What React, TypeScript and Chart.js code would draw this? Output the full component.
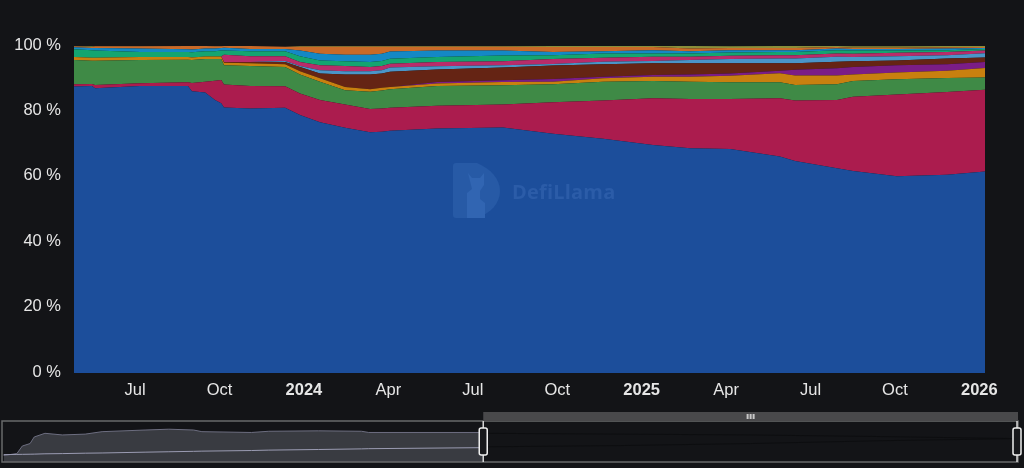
import { useEffect, useRef } from "react"
import { Chart, registerables } from "chart.js"

Chart.register(...registerables)

// months counted from Jan 2023
const dates = [3.83, 4.47, 4.58, 6.18, 7.88, 8.02, 8.49, 8.84, 9.06, 9.16, 10.09, 11.33, 11.86, 12.57, 13.46, 14.35, 14.77, 15.06, 16.73, 19.07, 20.85, 22.63, 24.4, 25.72, 27.14, 28.91, 29.45, 30.94, 31.51, 33.07, 34.85, 36.2]

const blue = [87.6, 87.8, 87.1, 87.8, 87.8, 86.2, 85.8, 83.5, 82.5, 81.2, 80.9, 81.1, 78.9, 76.7, 75.0, 73.6, 73.8, 74.1, 74.8, 75.1, 73.2, 71.6, 69.7, 68.7, 68.5, 66.2, 64.8, 62.6, 61.8, 60.2, 60.6, 61.6]
const crimson = [0.7, 0.6, 1.0, 0.8, 1.1, 2.5, 3.3, 5.9, 7.1, 7.0, 6.9, 6.6, 6.6, 6.8, 7.1, 7.1, 7.1, 7.0, 6.9, 7.0, 9.6, 11.7, 14.3, 15.1, 15.3, 17.8, 18.5, 20.9, 22.7, 25.0, 25.3, 25.0]
const green = [7.4, 7.1, 7.4, 7.1, 6.9, 7.0, 6.9, 6.6, 6.4, 5.9, 6.1, 5.9, 5.8, 5.6, 4.4, 5.3, 5.5, 5.7, 6.1, 5.9, 5.5, 5.8, 5.3, 5.3, 5.1, 4.9, 4.8, 4.8, 4.8, 4.6, 4.3, 3.8]
const orange = [0.9, 0.9, 0.9, 0.9, 0.8, 0.8, 0.8, 0.8, 0.8, 0.8, 0.8, 0.8, 1.0, 1.0, 1.0, 0.8, 0.8, 0.7, 0.7, 1.0, 0.8, 1.0, 1.3, 1.5, 2.0, 2.8, 2.9, 2.7, 2.0, 2.1, 2.2, 2.9]
const purple = [0, 0, 0, 0, 0, 0, 0, 0, 0, 0, 0, 0, 0, 0, 0, 0, 0, 0, 0.5, 0.5, 0.8, 0.5, 0.5, 0.7, 0.7, 0.7, 1.7, 2.2, 2.3, 2.2, 2.0, 1.8]
const brown = [0, 0, 0, 0, 0, 0, 0, 0, 0, 0.2, 0.4, 0.7, 1.3, 1.5, 3.8, 4.5, 4.4, 4.6, 3.8, 3.9, 4.1, 3.8, 3.6, 3.4, 3.1, 2.3, 2.0, 2.0, 1.7, 1.5, 1.8, 1.4]
const skyBlue = [0, 0, 0, 0, 0, 0, 0, 0, 0, 0, 0, 0.3, 0.3, 1.0, 1.0, 1.0, 1.0, 1.3, 1.0, 0.7, 0.5, 0.8, 0.7, 1.0, 1.3, 1.5, 1.5, 1.5, 1.3, 1.3, 1.0, 1.3]
const pink = [0, 0, 0, 0, 0, 0, 0, 0, 0, 2.2, 1.8, 1.5, 1.2, 1.5, 1.6, 1.3, 1.3, 1.2, 1.3, 1.2, 1.5, 1.2, 1.3, 1.0, 1.0, 1.0, 1.0, 1.0, 1.0, 1.0, 1.0, 0.8]
const teal = [2.4, 2.3, 2.2, 1.6, 1.6, 1.6, 1.6, 1.6, 1.8, 1.3, 1.5, 1.5, 1.8, 1.5, 1.4, 1.5, 1.5, 1.5, 1.5, 1.8, 1.2, 1.3, 1.0, 1.0, 1.0, 1.0, 1.0, 1.0, 1.0, 0.7, 0.5, 0.5]
const azure = [0.6, 0.7, 0.8, 1.0, 0.8, 0.8, 0.8, 0.8, 0.8, 0.9, 0.7, 0.7, 1.7, 2.0, 2.0, 2.2, 2.2, 2.2, 2.0, 1.5, 1.0, 0.7, 1.0, 0.7, 0.7, 0.5, 0.5, 0.5, 0.5, 0.5, 0.5, 0.3]
const rust = [0.3, 0.3, 0.5, 0.7, 1.0, 1.1, 0.8, 0.7, 0.5, 0.5, 0.9, 0.7, 1.2, 2.2, 2.5, 2.5, 2.2, 1.5, 1.2, 1.2, 1.5, 1.3, 1.0, 0.8, 0.7, 0.7, 0.7, 0.5, 0.4, 0.4, 0.4, 0.3]
const olive = [0.1, 0.2, 0.1, 0.1, 0, 0, 0, 0.1, 0.1, 0, 0, 0, 0.2, 0.2, 0.2, 0.2, 0.2, 0.2, 0.2, 0.2, 0.3, 0.3, 0.3, 0.8, 0.5, 0.6, 0.6, 0.3, 0.4, 0.4, 0.4, 0.3]

const tickMonths = [6, 9, 12, 15, 18, 21, 24, 27, 30, 33, 36]
const tickLabels = ["Jul", "Oct", "2024", "Apr", "Jul", "Oct", "2025", "Apr", "Jul", "Oct", "2026"]

// slider overview, whole history
const brushDates = [-25.2, -24.4, -24.07, -23.6, -23.35, -22.7, -21.65, -20.26, -19.24, -16.64, -15.2, -13.7, -13.2, -10.2, -9.15, -6.13, -3.54, -3.1, 3.83]
const brushUpper = [16, 20.5, 39, 45, 61, 70, 66, 68, 74, 78, 80, 78, 74, 72, 75, 76, 75, 72, 72]
const brushLower = [18, 18.5, 18.7, 19, 19.2, 20, 20.5, 21.5, 22, 24, 25, 26, 26.5, 28, 29, 30.5, 32, 32.5, 35]
const selectedDates = [3.83, 12, 20, 28, 36.2]
const selectedUpper = [70, 68, 66, 62, 57]
const selectedLower = [37, 40, 45, 52, 57]

const INK = "#e6e6e6"
const BG = "#131417"
const FONT = '"Liberation Sans", Arial, sans-serif'

const points = (xs: number[], ys: number[]) => xs.map((x, i) => ({ x, y: ys[i] }))

const layers: [string, number[], string][] = [
  ["Blue", blue, "#1c4e9b"],
  ["Crimson", crimson, "#ab1c4e"],
  ["Green", green, "#3f8a46"],
  ["Orange", orange, "#c8800f"],
  ["Purple", purple, "#7b1d86"],
  ["Brown", brown, "#652414"],
  ["Sky", skyBlue, "#4a95c8"],
  ["Pink", pink, "#b82c6a"],
  ["Teal", teal, "#14a570"],
  ["Azure", azure, "#1488c5"],
  ["Rust", rust, "#c96a28"],
  ["Olive", olive, "#8a8f3a"],
]

// frame, top bar and handles of the slider
const sliderChrome = {
  id: "sliderChrome",
  afterDraw(chart: Chart) {
    const { ctx, chartArea, scales } = chart
    const from = scales.x.getPixelForValue(selectedDates[0])
    const to = chartArea.right
    ctx.save()
    ctx.strokeStyle = "#68696b"
    ctx.lineWidth = 1.5
    ctx.strokeRect(chartArea.left, chartArea.top, chartArea.width, chartArea.height)
    ctx.fillStyle = "#49494b"
    ctx.fillRect(from, chartArea.top - 9, to - from, 9)
    ctx.fillStyle = "#c8c8c8"
    const mid = (from + to) / 2
    for (const dx of [-3, 0, 3]) ctx.fillRect(mid + dx - 1, chartArea.top - 7, 2, 5)
    for (const x of [from, to - 1]) {
      ctx.strokeStyle = "#d8d8d8"
      ctx.lineWidth = 1.5
      ctx.beginPath()
      ctx.moveTo(x, chartArea.top)
      ctx.lineTo(x, chartArea.bottom)
      ctx.stroke()
      ctx.fillStyle = "#17181b"
      ctx.strokeStyle = "#f0f0f0"
      ctx.beginPath()
      ctx.roundRect(x - 4, chartArea.top + 7, 8, 27, 2)
      ctx.fill()
      ctx.stroke()
    }
    ctx.restore()
  },
}

export default function App() {
  const mainRef = useRef<HTMLCanvasElement>(null)
  const brushRef = useRef<HTMLCanvasElement>(null)

  useEffect(() => {
    if (!mainRef.current || !brushRef.current) return
    document.body.style.margin = "0"
    document.body.style.background = BG

    const main = new Chart(mainRef.current, {
      type: "line",
      data: {
        datasets: layers.map(([label, values, color], i) => ({
          label,
          data: points(dates, values),
          backgroundColor: color,
          borderWidth: 0,
          pointRadius: 0,
          tension: 0,
          fill: i === 0 ? "origin" : "-1",
        })),
      },
      options: {
        animation: false,
        responsive: false,
        layout: { padding: { top: 46, right: 39, left: 0, bottom: 0 } },
        plugins: { legend: { display: false }, tooltip: { enabled: false } },
        scales: {
          x: {
            type: "linear",
            min: dates[0],
            max: dates[dates.length - 1],
            grid: { display: false, drawTicks: false },
            border: { display: false },
            afterBuildTicks: (scale) => {
              scale.ticks = tickMonths.map((value) => ({ value }))
            },
            afterFit: (scale) => {
              scale.height = 37
            },
            ticks: {
              autoSkip: false,
              maxRotation: 0,
              padding: 8,
              color: INK,
              font: (ctx) => ({
                family: FONT,
                size: 16.5,
                weight: ctx.tick && ctx.tick.value % 12 === 0 ? "bold" : "normal",
              }),
              callback: (_v, index) => tickLabels[index],
            },
          },
          y: {
            stacked: true,
            min: 0,
            max: 100,
            grid: { display: false, drawTicks: false },
            border: { display: false },
            afterFit: (scale) => {
              scale.width = 74
            },
            ticks: {
              stepSize: 20,
              padding: 13,
              labelOffset: -1,
              color: INK,
              font: { family: FONT, size: 16.5 },
              callback: (v) => `${v} %`,
            },
          },
        },
      },
    })

    const overview = (data: { x: number; y: number }[], line: string, fill: string | false) => ({
      data,
      borderColor: line,
      borderWidth: 1,
      backgroundColor: fill || "transparent",
      pointRadius: 0,
      tension: 0,
      fill: fill ? "origin" : false,
    })

    const brush = new Chart(brushRef.current, {
      type: "line",
      data: {
        datasets: [
          overview(points(brushDates, brushLower), "#9a9bb2", false),
          overview(points(brushDates, brushUpper), "#6d6e80", "#393b41"),
          overview(points(selectedDates, selectedLower), "#0d0e10", false),
          overview(points(selectedDates, selectedUpper), "#0d0e10", false),
        ],
      },
      options: {
        animation: false,
        responsive: false,
        layout: { padding: { top: 11, left: 2, right: 6, bottom: 6 } },
        plugins: { legend: { display: false }, tooltip: { enabled: false } },
        scales: {
          x: { type: "linear", display: false, min: -25.3, max: dates[dates.length - 1] },
          y: { display: false, min: 0, max: 100 },
        },
      },
      plugins: [sliderChrome],
    })

    return () => {
      main.destroy()
      brush.destroy()
    }
  }, [])

  return (
    <div style={{ position: "relative", width: 1024, height: 468, background: BG, overflow: "hidden" }}>
      <canvas ref={mainRef} width={1024} height={410} style={{ position: "absolute", left: 0, top: 0 }} />
      <canvas ref={brushRef} width={1024} height={58} style={{ position: "absolute", left: 0, top: 410 }} />
      <svg width={48} height={56} viewBox="0 0 48 56" style={{ position: "absolute", left: 453, top: 163 }}>
        <path d="M3 0 H24 C38 6 47 16 47 28 C47 40 38 50 24 55 H3 Q0 55 0 52 V3 Q0 0 3 0 Z" fill="#275aa6" />
        <path d="M15 10 L19 15 H27 L31 10 L31 22 L27 28 V36 L32 40 V55 H14 V30 L19 26 Z" fill="#3165b2" />
      </svg>
      <div
        style={{
          position: "absolute",
          left: 512,
          top: 180,
          font: 'bold 20px "Open Sans", sans-serif',
          letterSpacing: 0.2,
          color: "#2b5ca8",
          lineHeight: "24px",
        }}
      >
        DefiLlama
      </div>
    </div>
  )
}
